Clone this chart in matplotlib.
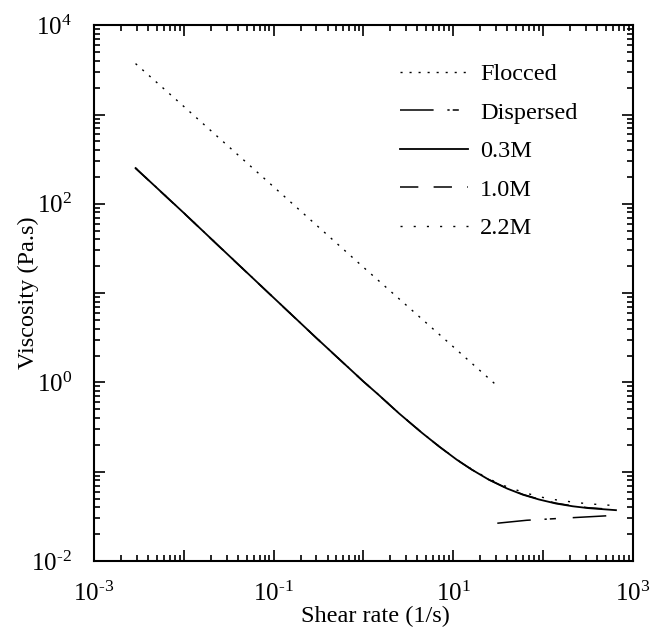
import numpy as np
import matplotlib
matplotlib.use('Agg')
import matplotlib.pyplot as plt
from matplotlib.ticker import LogLocator, FuncFormatter, NullFormatter

plt.rcParams['font.family'] = ['Liberation Serif', 'DejaVu Serif']
plt.rcParams['mathtext.fontset'] = 'custom'
plt.rcParams['mathtext.rm'] = 'Liberation Serif'
plt.rcParams['mathtext.it'] = 'Liberation Serif:italic'

# data (shear rate in 1/s, viscosity in Pa.s)
flocced_rate = [0.0029, 0.01, 0.1, 1.0, 10.0, 31.0]
flocced_visc = [3715, 1230, 155, 19.5, 2.51, 0.912]

dispersed_rate = [31.0, 66.0, 171.0, 390.0, 690.0]
dispersed_visc = [0.0265, 0.0286, 0.0302, 0.0316, 0.0326]

rate = [0.0029, 0.01, 0.03, 0.1, 0.3, 1.0, 1.5, 2.5, 4.5, 7.0,
        11.0, 16.0, 25.0, 40.0, 60.0, 90.0, 140.0, 215.0, 320.0, 650.0]
visc_03 = [251, 79.0, 27.8, 8.88, 3.14, 1.025, 0.716, 0.449, 0.272, 0.191,
           0.136, 0.106, 0.0813, 0.0647, 0.0552, 0.0489, 0.0440, 0.0410, 0.0391, 0.0371]
visc_10 = [250, 78.8, 27.7, 8.86, 3.13, 1.023, 0.715, 0.448, 0.272, 0.191,
           0.136, 0.106, 0.0815, 0.0650, 0.0556, 0.0493, 0.0444, 0.0414, 0.0395, 0.0376]
visc_22 = [252, 79.2, 27.9, 8.90, 3.15, 1.028, 0.718, 0.450, 0.273, 0.192,
           0.137, 0.107, 0.0830, 0.0675, 0.0590, 0.0525, 0.0484, 0.0457, 0.0437, 0.0417]

fig = plt.figure(figsize=(6.53, 6.30), dpi=100)
ax = fig.add_axes([0.144, 0.1095, 0.825, 0.8505])

ax.plot(flocced_rate, flocced_visc, color='black', lw=1.0,
        linestyle=(0, (1.5, 5)), label='Flocced')
ax.plot(dispersed_rate, dispersed_visc, color='black', lw=1.1,
        linestyle=(0, (22, 9, 1.5, 2, 4, 11)), label='Dispersed')
ax.plot(rate, visc_03, color='black', lw=1.3, label='0.3M')
ax.plot(rate, visc_10, color='black', lw=1.1,
        linestyle=(0, (12, 10)), label='1.0M')
ax.plot(rate, visc_22, color='black', lw=1.0,
        linestyle=(0, (1.5, 8)), label='2.2M')

ax.set_xscale('log')
ax.set_yscale('log')
ax.set_xlim(1e-3, 1e3)
ax.set_ylim(1e-2, 1e4)

ax.xaxis.set_major_locator(LogLocator(base=10, numticks=20))
ax.yaxis.set_major_locator(LogLocator(base=10, numticks=20))
ax.xaxis.set_minor_locator(LogLocator(base=10, subs=np.arange(2, 10), numticks=20))
ax.yaxis.set_minor_locator(LogLocator(base=10, subs=np.arange(2, 10), numticks=20))


def power_label(e):
    if e < 0:
        return r'$10^{\text{-}%d}$' % (-e)
    return r'$10^{%d}$' % e


def fmt_odd(v, pos):
    e = int(round(np.log10(v)))
    return power_label(e) if e % 2 != 0 else ''


def fmt_even(v, pos):
    e = int(round(np.log10(v)))
    return power_label(e) if e % 2 == 0 else ''


ax.xaxis.set_major_formatter(FuncFormatter(fmt_odd))
ax.yaxis.set_major_formatter(FuncFormatter(fmt_even))
ax.xaxis.set_minor_formatter(NullFormatter())
ax.yaxis.set_minor_formatter(NullFormatter())

ax.tick_params(which='both', direction='in', top=True, right=True,
               width=1.2, labelsize=18)
ax.tick_params(which='major', length=8)
ax.tick_params(which='minor', length=4)
ax.tick_params(axis='x', pad=15)
ax.tick_params(axis='y', pad=16)
for s in ax.spines.values():
    s.set_linewidth(1.5)

ax.set_xlabel('Shear rate (1/s)', fontsize=17.5)
ax.xaxis.set_label_coords(0.523, -0.083)
ax.set_ylabel('Viscosity (Pa.s)', fontsize=17.5)
ax.yaxis.set_label_coords(-0.102, 0.5)

ax.legend(loc='upper left', bbox_to_anchor=(0.568, 0.929), frameon=False,
          fontsize=17.5, handlelength=2.8, handletextpad=0.5,
          labelspacing=0.68, borderpad=0, borderaxespad=0)

fig.savefig('out.png', dpi=100)
